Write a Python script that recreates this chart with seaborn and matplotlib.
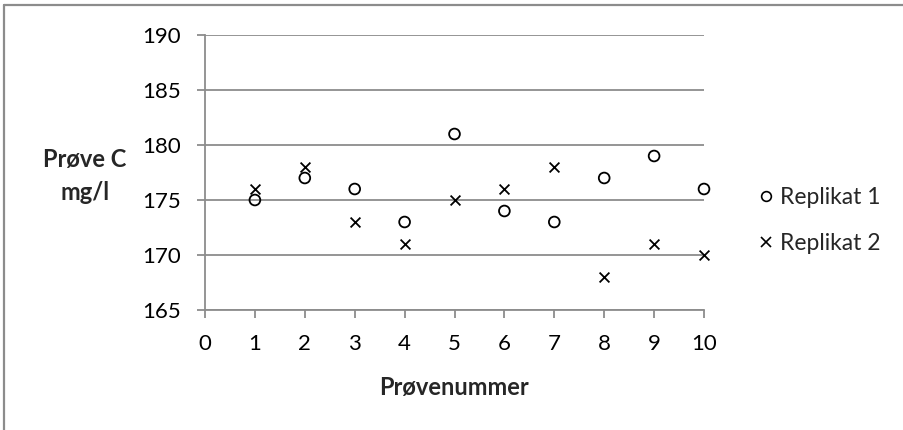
import matplotlib
matplotlib.use("Agg")
import matplotlib.pyplot as plt
import seaborn as sns
import pandas as pd
from matplotlib.lines import Line2D

samples = [1, 2, 3, 4, 5, 6, 7, 8, 9, 10]
replikat1 = [175, 177, 176, 173, 181, 174, 173, 177, 179, 176]
replikat2 = [176, 178, 173, 171, 175, 176, 178, 168, 171, 170]
series_names = ["Replikat 1", "Replikat 2"]

df = pd.DataFrame({
    "Prøvenummer": samples * 2,
    "Verdi": replikat1 + replikat2,
    "Serie": [series_names[0]] * len(samples) + [series_names[1]] * len(samples),
})

sns.set_theme(style="white")
plt.rcParams["font.family"] = ["Lato", "DejaVu Sans"]

W, H = 904, 430
fig = plt.figure(figsize=(W / 100, H / 100), dpi=100)
ax = fig.add_axes([205 / W, 1 - 310 / H, (704 - 205) / W, (310 - 35) / H])

grey = "#8c8c8c"
d1 = df[df["Serie"] == series_names[0]]
d2 = df[df["Serie"] == series_names[1]]
sns.scatterplot(data=d1, x="Prøvenummer", y="Verdi", ax=ax, legend=False,
                marker="o", s=60, facecolors="none", edgecolor="black",
                linewidth=1.3, zorder=3, clip_on=False)
sns.scatterplot(data=d2, x="Prøvenummer", y="Verdi", ax=ax, legend=False,
                marker="x", s=50, color="black", linewidth=1.3, zorder=3, clip_on=False)

ax.set_xlim(0, 10)
ax.set_ylim(165, 190)
ax.set_xticks(range(0, 11))
ax.set_yticks(range(165, 191, 5))
ax.yaxis.grid(True, color=grey, linewidth=1.3)
ax.xaxis.grid(False)
for side in ["top", "right"]:
    ax.spines[side].set_visible(False)
for side in ["left", "bottom"]:
    ax.spines[side].set_color(grey)
    ax.spines[side].set_linewidth(1.3)
ax.tick_params(axis="both", which="major", direction="out", length=5.5, width=1.3,
               color=grey, labelsize=16, labelcolor="black",
               bottom=True, left=True)
ax.tick_params(axis="x", pad=12)
ax.tick_params(axis="y", pad=12)

ax.set_xlabel("")
ax.set_ylabel("")
fig.text((205 + 704) / 2 / W, 1 - 387 / H, "Prøvenummer", ha="center", va="center",
         fontsize=17, fontweight="bold")
fig.text(85 / W, 1 - 159 / H, "Prøve C", ha="center", va="center",
         fontsize=17, fontweight="bold")
fig.text(85 / W, 1 - 192 / H, "mg/l", ha="center", va="center",
         fontsize=17, fontweight="bold")

handles = [
    Line2D([], [], marker="o", linestyle="none", markerfacecolor="none",
           markeredgecolor="black", markersize=7, markeredgewidth=1.2),
    Line2D([], [], marker="x", linestyle="none", color="black",
           markersize=7, markeredgewidth=1.2),
]
fig.legend(handles, series_names, loc="center left", bbox_to_anchor=(757 / W, 1 - 220.5 / H),
           frameon=False, fontsize=16.5, handletextpad=0.2, handlelength=0.8,
           labelspacing=1.05, borderpad=0, borderaxespad=0)

# chart border (extends past the right and bottom edges of the picture)
fig.add_artist(Line2D([4.5 / W, 4.5 / W], [1 - 5 / H, 0], transform=fig.transFigure,
                      color=grey, linewidth=1.6))
fig.add_artist(Line2D([4.5 / W, 1], [1 - 5 / H, 1 - 5 / H], transform=fig.transFigure,
                      color=grey, linewidth=1.6))

fig.savefig("out.png", dpi=100)
